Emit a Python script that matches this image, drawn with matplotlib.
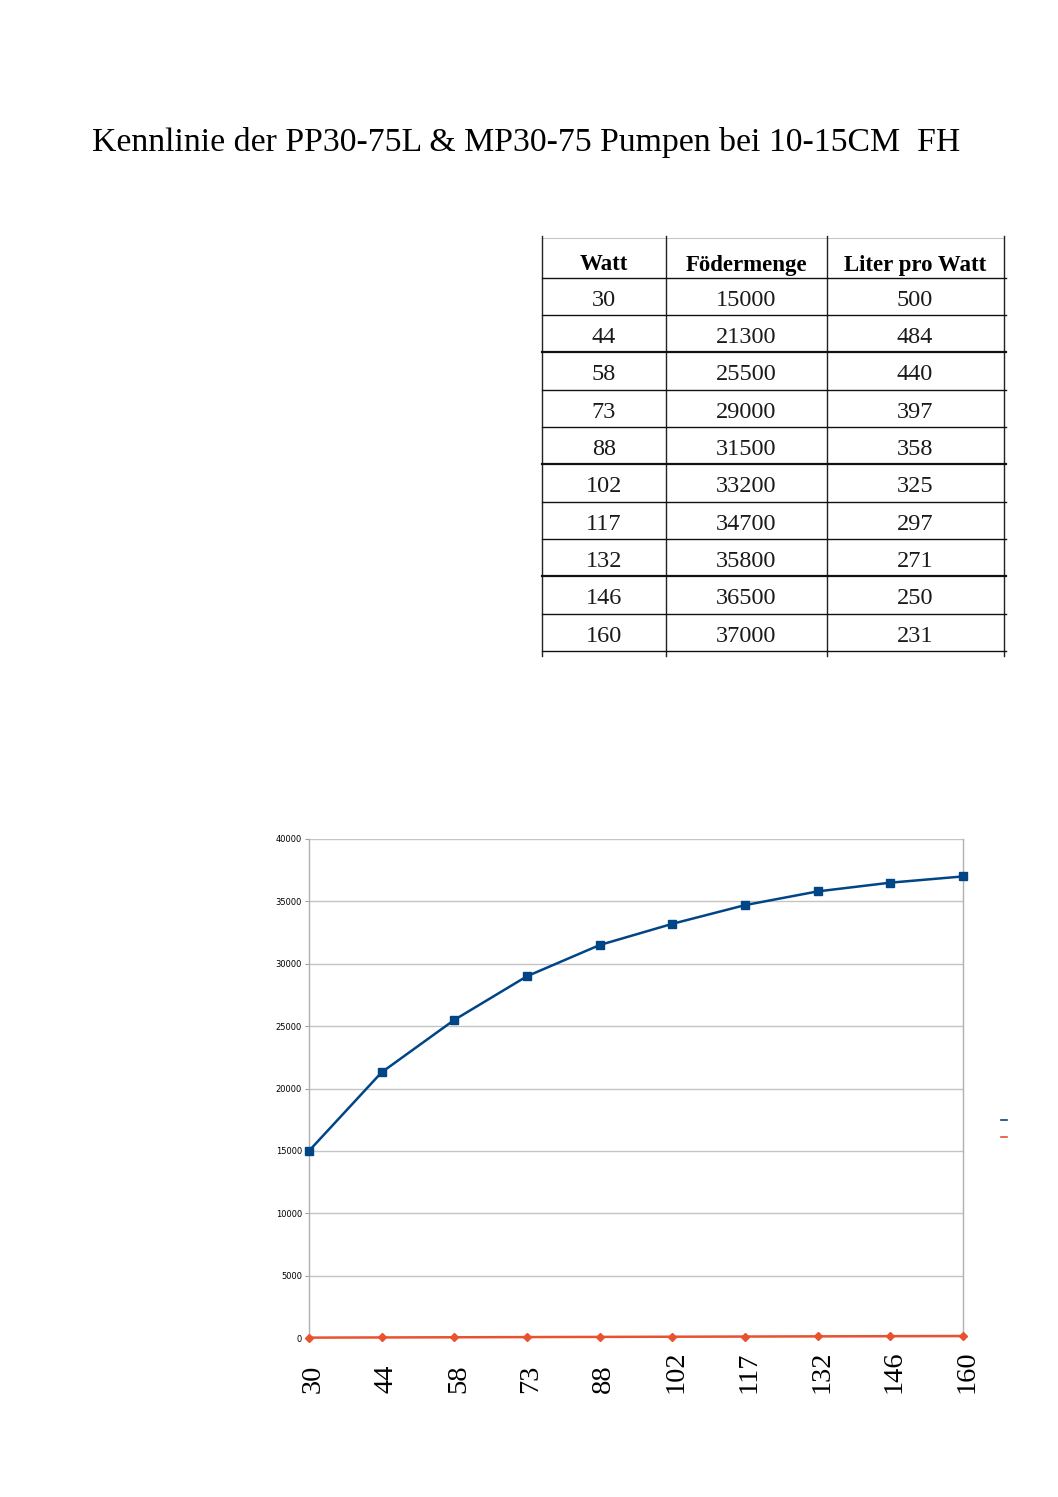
#!/usr/bin/env python3
import matplotlib

matplotlib.use("Agg")
import matplotlib.pyplot as plt
import matplotlib.transforms as mtransforms
from matplotlib.lines import Line2D

# data from the page
watt = [30, 44, 58, 73, 88, 102, 117, 132, 146, 160]
foerdermenge = [15000, 21300, 25500, 29000, 31500, 33200, 34700, 35800, 36500, 37000]
liter_pro_watt = [500, 484, 440, 397, 358, 325, 297, 271, 250, 231]
header = ["Watt", "Födermenge", "Liter pro Watt"]
title = "Kennlinie der PP30-75L & MP30-75 Pumpen bei 10-15CM  FH"

W, H = 1058, 1497
BLUE = "#004586"
ORANGE = "#e8522f"
SERIF = "Liberation Serif"

fig = plt.figure(figsize=(W / 100, H / 100), dpi=100)


def fx(px):
    return px / W


def fy(py):
    return 1 - py / H


# title
fig.text(fx(92), fy(142), title, family=SERIF, fontsize=24.3,
         ha="left", va="center")

# table
col_edges = [542, 666, 827, 1004]
row_edges = [240, 278, 315, 352, 390, 427, 464, 502, 539, 576, 614, 651]
thick_rows = {352, 464, 576}
fig.add_artist(Line2D([fx(542), fx(1004)], [fy(238), fy(238)],
                      color="#c8c8c8", lw=0.8))
for x in col_edges:
    fig.add_artist(Line2D([fx(x), fx(x)], [fy(236), fy(656)],
                          color="#222222", lw=1.0))
for y in row_edges[1:]:
    fig.add_artist(Line2D([fx(542), fx(1006)], [fy(y), fy(y)],
                          color="#111111", lw=1.6 if y in thick_rows else 1.0))

centers = [604, 746, 915]
for c, label in zip(centers, header):
    fig.text(fx(c), fy(265), label, family=SERIF, fontsize=16.5,
             fontweight="bold", ha="center", va="center")
for i, (w, f, l) in enumerate(zip(watt, foerdermenge, liter_pro_watt)):
    yc = (row_edges[i + 1] + row_edges[i + 2]) / 2 + 4
    for c, v in zip(centers, (w, f, l)):
        fig.text(fx(c), fy(yc), str(v), family=SERIF, fontsize=17.5,
                 ha="center", va="center", color="#1a1a1a")

# chart: blue = Födermenge, orange = Watt (near zero on this scale)
ax = fig.add_axes([fx(309), fy(1338), fx(963) - fx(309), fy(839) - fy(1338)])
x = list(range(len(watt)))
ax.plot(x, foerdermenge, color=BLUE, lw=1.8, marker="s", ms=5.5,
        clip_on=False, zorder=3)
ax.plot(x, watt, color=ORANGE, lw=1.8, marker="D", ms=4,
        clip_on=False, zorder=3)
ax.set_xlim(0, len(watt) - 1)
ax.set_ylim(0, 40000)
ax.set_yticks(range(0, 40001, 5000))
ax.set_yticklabels([str(v) for v in range(0, 40001, 5000)],
                   family="DejaVu Sans", fontsize=6)
ax.tick_params(axis="y", length=3, width=0.8, color="#a0a0a0", pad=2)
ax.set_xticks(x)
# rotated labels all start at the same baseline below the axis
ax.set_xticklabels([str(w) for w in watt], family=SERIF, fontsize=20.5,
                   rotation=90, va="bottom")
ax.tick_params(axis="x", length=0, pad=0)
shift = mtransforms.ScaledTranslation(4 / 100, -55 / 100, fig.dpi_scale_trans)
for lbl in ax.get_xticklabels():
    lbl.set_transform(lbl.get_transform() + shift)
ax.grid(axis="y", color="#c4c4c4", lw=1.0)
ax.set_axisbelow(True)
for side in ("left", "right"):
    ax.spines[side].set_color("#b0b0b0")
    ax.spines[side].set_linewidth(1.0)
ax.spines["top"].set_visible(False)
ax.spines["bottom"].set_visible(False)

# tiny legend stubs at the right edge
fig.add_artist(Line2D([fx(1001), fx(1007)], [fy(1120), fy(1120)],
                      color=BLUE, lw=1.2))
fig.add_artist(Line2D([fx(1001), fx(1007)], [fy(1137), fy(1137)],
                      color=ORANGE, lw=1.2))

fig.savefig("out.png", dpi=100)
plt.close(fig)
